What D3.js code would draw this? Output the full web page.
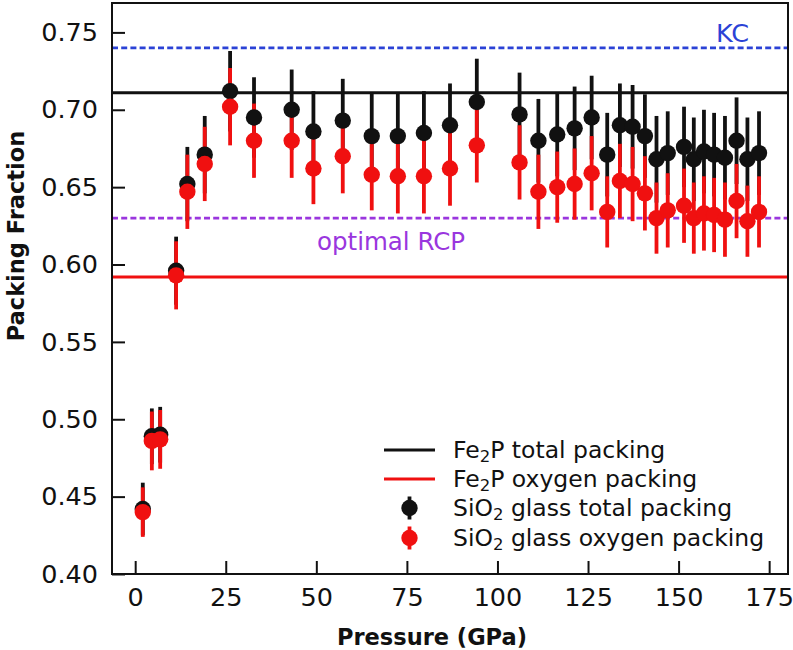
<!DOCTYPE html>
<html>
<head>
<meta charset="utf-8">
<script src="https://cdn.jsdelivr.net/npm/d3@7"></script>
<style>
  html, body { margin: 0; padding: 0; background: #fff; }
  svg { display: block; font-family: "DejaVu Sans", sans-serif; }
</style>
</head>
<body>
<svg id="chart" width="793" height="650"></svg>
<script>
// ---- data ----
const pressure = [2.1, 4.6, 6.9, 11.3, 14.4, 19.2, 26.2, 32.8, 43.2, 49.2, 57.3, 65.3, 72.5, 79.7, 86.9, 94.3, 106.1, 111.3, 116.5, 121.3, 126.0, 130.3, 133.8, 137.3, 140.7, 143.9, 147.0, 151.5, 154.2, 157.0, 159.8, 162.8, 166.0, 169.0, 172.2];
const totalPacking = [0.442, 0.489, 0.490, 0.596, 0.652, 0.671, 0.712, 0.695, 0.700, 0.686, 0.693, 0.683, 0.683, 0.685, 0.690, 0.705, 0.697, 0.680, 0.684, 0.688, 0.695, 0.671, 0.690, 0.689, 0.683, 0.668, 0.672, 0.676, 0.668, 0.673, 0.671, 0.669, 0.680, 0.668, 0.672];
const totalErr = [0.017, 0.018, 0.018, 0.022, 0.024, 0.025, 0.026, 0.026, 0.026, 0.026, 0.027, 0.028, 0.028, 0.027, 0.027, 0.028, 0.027, 0.027, 0.027, 0.027, 0.027, 0.027, 0.027, 0.027, 0.027, 0.028, 0.027, 0.026, 0.027, 0.027, 0.027, 0.027, 0.028, 0.027, 0.027];
const oxygenPacking = [0.440, 0.486, 0.487, 0.593, 0.647, 0.665, 0.702, 0.680, 0.680, 0.662, 0.670, 0.658, 0.657, 0.657, 0.662, 0.677, 0.666, 0.647, 0.650, 0.652, 0.659, 0.634, 0.654, 0.652, 0.646, 0.630, 0.635, 0.638, 0.630, 0.633, 0.632, 0.629, 0.641, 0.628, 0.634];
const oxygenErr = [0.016, 0.019, 0.019, 0.022, 0.024, 0.024, 0.025, 0.024, 0.024, 0.023, 0.024, 0.023, 0.024, 0.024, 0.024, 0.024, 0.024, 0.024, 0.023, 0.023, 0.024, 0.023, 0.024, 0.024, 0.024, 0.023, 0.024, 0.024, 0.023, 0.024, 0.024, 0.024, 0.024, 0.023, 0.023];

const xTicks = [0, 25, 50, 75, 100, 125, 150, 175];
const yTicks = [0.40, 0.45, 0.50, 0.55, 0.60, 0.65, 0.70, 0.75];

const refNames = ["KC", "optimal RCP", "Fe2P total", "Fe2P oxygen"];
const refValues = [0.740, 0.630, 0.711, 0.592];

// ---- layout ----
const svg = d3.select("#chart");
const L = 112, R = 788, T = 3, B = 574;
const x = d3.scaleLinear().domain([-6.4, 180.2]).range([L, R]);
const y = d3.scaleLinear().domain([0.40, 0.769]).range([B, T]);

const BLACK = "#111111", RED = "#f01010", BLUE = "#2b42d6", PURPLE = "#9a36de";
const refStyles = [
  {color: BLUE, dash: "6,3.2", w: 2.6},
  {color: PURPLE, dash: "6,3.2", w: 2.6},
  {color: BLACK, dash: null, w: 3},
  {color: RED, dash: null, w: 3}
];

// clip
svg.append("defs").append("clipPath").attr("id", "clip")
  .append("rect").attr("x", L).attr("y", T).attr("width", R - L).attr("height", B - T);

const plot = svg.append("g").attr("clip-path", "url(#clip)");

// reference lines
refValues.forEach((v, i) => {
  const s = refStyles[i];
  const ln = plot.append("line")
    .attr("x1", L).attr("x2", R)
    .attr("y1", y(v)).attr("y2", y(v))
    .attr("stroke", s.color).attr("stroke-width", s.w);
  if (s.dash) ln.attr("stroke-dasharray", s.dash);
});

const idx = d3.range(pressure.length);
const R_MARK = 8.2, EB_W = 3.8;
// error bars: black then red
plot.append("g").selectAll("line").data(idx).join("line")
  .attr("x1", i => x(pressure[i])).attr("x2", i => x(pressure[i]))
  .attr("y1", i => y(totalPacking[i] - totalErr[i]))
  .attr("y2", i => y(totalPacking[i] + totalErr[i]))
  .attr("stroke", BLACK).attr("stroke-width", EB_W);
plot.append("g").selectAll("line").data(idx).join("line")
  .attr("x1", i => x(pressure[i])).attr("x2", i => x(pressure[i]))
  .attr("y1", i => y(oxygenPacking[i] - oxygenErr[i]))
  .attr("y2", i => y(oxygenPacking[i] + oxygenErr[i]))
  .attr("stroke", RED).attr("stroke-width", EB_W);
// markers
plot.append("g").selectAll("circle").data(idx).join("circle")
  .attr("cx", i => x(pressure[i])).attr("cy", i => y(totalPacking[i]))
  .attr("r", R_MARK).attr("fill", BLACK);
plot.append("g").selectAll("circle").data(idx).join("circle")
  .attr("cx", i => x(pressure[i])).attr("cy", i => y(oxygenPacking[i]))
  .attr("r", R_MARK).attr("fill", RED);

// annotations
svg.append("text").attr("x", 716).attr("y", 42)
  .attr("font-size", 25.5).attr("fill", BLUE).text(refNames[0]);
svg.append("text").attr("x", 317).attr("y", 250)
  .attr("font-size", 24.5).attr("fill", PURPLE).text(refNames[1]);

// axes
const xAxis = d3.axisBottom(x).tickValues(xTicks).tickFormat(d3.format("d"))
  .tickSizeInner(-13).tickSizeOuter(0).tickPadding(20);
const yAxis = d3.axisLeft(y).tickValues(yTicks).tickFormat(d3.format(".2f"))
  .tickSizeInner(-13).tickSizeOuter(0).tickPadding(26);

const gx = svg.append("g").attr("transform", `translate(0,${B})`).call(xAxis);
const gy = svg.append("g").attr("transform", `translate(${L},0)`).call(yAxis);
[gx, gy].forEach(g => {
  g.select(".domain").remove();
  g.selectAll(".tick line").attr("stroke", "#111").attr("stroke-width", 2);
  g.selectAll(".tick text").attr("font-size", 25.5).attr("fill", "#111")
    .attr("font-family", "DejaVu Sans, sans-serif");
});
gx.selectAll(".tick text").attr("dy", "0.71em").attr("y", 14);
gy.selectAll(".tick text").attr("x", -14);

// frame
svg.append("rect").attr("x", L).attr("y", T).attr("width", R - L).attr("height", B - T)
  .attr("fill", "none").attr("stroke", "#111").attr("stroke-width", 2);

// axis labels
svg.append("text").attr("x", 432).attr("y", 645).attr("text-anchor", "middle")
  .attr("font-size", 22.5).attr("font-weight", "bold").attr("fill", "#111")
  .text("Pressure (GPa)");
svg.append("text").attr("transform", "translate(24,236) rotate(-90)")
  .attr("text-anchor", "middle")
  .attr("font-size", 22.5).attr("font-weight", "bold").attr("fill", "#111")
  .text("Packing Fraction");

// legend
const legRows = [450, 479, 508, 538];
const leg = svg.append("g");
const textX = 453;
function subText(g, yy, pre, sub, post) {
  const t = g.append("text").attr("x", textX).attr("y", yy).attr("dy", "0.35em")
    .attr("font-size", 23.5).attr("fill", "#111");
  t.append("tspan").text(pre);
  t.append("tspan").attr("font-size", 16.5).attr("dy", 4).text(sub);
  t.append("tspan").attr("dy", -4).text(post);
}
// line handles
leg.append("line").attr("x1", 384).attr("x2", 435).attr("y1", legRows[0]).attr("y2", legRows[0])
  .attr("stroke", BLACK).attr("stroke-width", 3);
leg.append("line").attr("x1", 384).attr("x2", 435).attr("y1", legRows[1]).attr("y2", legRows[1])
  .attr("stroke", RED).attr("stroke-width", 3);
// marker handles
[[legRows[2], BLACK], [legRows[3], RED]].forEach(([yy, c]) => {
  leg.append("line").attr("x1", 409.5).attr("x2", 409.5).attr("y1", yy - 11.5).attr("y2", yy + 11.5)
    .attr("stroke", c).attr("stroke-width", EB_W);
  leg.append("circle").attr("cx", 409.5).attr("cy", yy).attr("r", R_MARK).attr("fill", c);
});
subText(leg, legRows[0], "Fe", "2", "P total packing");
subText(leg, legRows[1], "Fe", "2", "P oxygen packing");
subText(leg, legRows[2], "SiO", "2", " glass total packing");
subText(leg, legRows[3], "SiO", "2", " glass oxygen packing");
</script>
</body>
</html>
